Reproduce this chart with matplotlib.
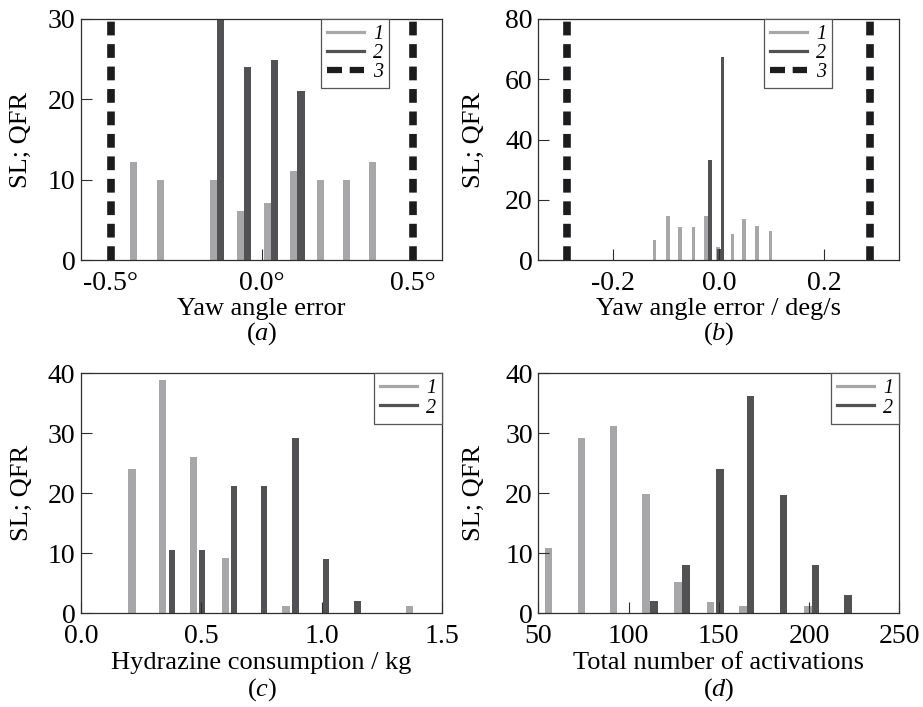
import matplotlib
matplotlib.use('Agg')
import matplotlib.pyplot as plt
from matplotlib.lines import Line2D

plt.rcParams['font.family'] = ['Liberation Serif', 'DejaVu Serif']
plt.rcParams['axes.unicode_minus'] = False
plt.rcParams['mathtext.fontset'] = 'custom'
plt.rcParams['mathtext.it'] = 'Liberation Serif:italic'
plt.rcParams['mathtext.rm'] = 'Liberation Serif'

LIGHT = '#a7a7a9'
DARK = '#525254'
BLACK = '#1c1b1d'
SPINE = '#2e2e2e'

# ---------------- data ----------------
# (a) yaw angle error
a_x1 = [-0.424, -0.336, -0.160, -0.071, 0.019, 0.106, 0.194, 0.280, 0.368]
a_y1 = [12.2, 10.0, 10.0, 6.1, 7.1, 11.1, 10.0, 10.0, 12.2]
a_x2 = [-0.136, -0.047, 0.043, 0.130]
a_y2 = [31.0, 24.0, 24.9, 21.0]
a_limits = [-0.5, 0.5]
a_xticks = [-0.5, 0.0, 0.5]
a_xticklabels = ['-0.5°', '0.0°', '0.5°']
a_yticks = [0, 10, 20, 30]

# (b) yaw rate error
b_x1 = [-0.122, -0.097, -0.073, -0.048, -0.024, -0.001, 0.026, 0.048, 0.073, 0.098]
b_y1 = [6.6, 14.6, 11.1, 11.1, 14.6, 4.2, 8.5, 13.5, 11.2, 9.5]
b_x2 = [-0.017, 0.000, 0.007]
b_y2 = [33.3, 3.8, 67.5]
b_limits = [-0.287, 0.287]
b_xticks = [-0.2, 0.0, 0.2]
b_xticklabels = ['-0.2', '0.0', '0.2']
b_yticks = [0, 20, 40, 60, 80]

# (c) hydrazine consumption
c_x1 = [0.212, 0.338, 0.466, 0.599, 0.851, 1.364]
c_y1 = [24.0, 38.9, 26.1, 9.2, 1.3, 1.3]
c_x2 = [0.378, 0.502, 0.635, 0.760, 0.890, 1.017, 1.147]
c_y2 = [10.5, 10.5, 21.2, 21.2, 29.3, 9.1, 2.0]
c_xticks = [0.0, 0.5, 1.0, 1.5]
c_xticklabels = ['0.0', '0.5', '1.0', '1.5']
c_yticks = [0, 10, 20, 30, 40]

# (d) total number of activations
d_x1 = [55.5, 73.8, 91.6, 109.6, 127.4, 145.3, 163.4, 199.4]
d_y1 = [10.9, 29.2, 31.2, 19.9, 5.2, 1.9, 1.2, 1.2]
d_x2 = [114.1, 132.0, 150.8, 167.5, 185.9, 203.6, 221.4]
d_y2 = [2.0, 8.0, 24.1, 36.3, 19.8, 8.1, 3.0]
d_xticks = [50, 100, 150, 200, 250]
d_xticklabels = ['50', '100', '150', '200', '250']
d_yticks = [0, 10, 20, 30, 40]

xlabels = ['Yaw angle error', 'Yaw angle error / deg/s',
           'Hydrazine consumption / kg', 'Total number of activations']
captions = ['a', 'b', 'c', 'd']
ylabel = 'SL; QFR'
legend_labels = ['1', '2', '3']

# ---------------- figure ----------------
W, H = 923, 707
fig = plt.figure(figsize=(W / 100, H / 100), dpi=100)

def px_axes(l, r, t, b):
    return fig.add_axes([l / W, (H - b) / H, (r - l) / W, (b - t) / H])

axA = px_axes(81, 442, 19, 260)
axB = px_axes(538.3, 899.3, 19, 260)
axC = px_axes(81, 442.3, 373.3, 613.3)
axD = px_axes(538.3, 899.3, 373.3, 613.3)

TICK_FS = 20
LAB_FS = 19

def style(ax, xticks, xticklabels, yticks, xlim, ylim):
    ax.set_xlim(*xlim)
    ax.set_ylim(*ylim)
    ax.set_xticks(xticks)
    ax.set_xticklabels(xticklabels)
    ax.set_yticks(yticks)
    ax.tick_params(axis='both', direction='in', length=8, width=0.8,
                   color=SPINE, labelsize=TICK_FS, top=False, right=False)
    ax.tick_params(axis='x', pad=8)
    ax.tick_params(axis='y', pad=4)
    for s in ax.spines.values():
        s.set_linewidth(0.9)
        s.set_color(SPINE)

DASH_KW = dict(color=BLACK, lw=5.5, linestyle=(0, (1.8, 1.14)))

def legend(ax, n, anchor_x):
    h = [Line2D([], [], color=LIGHT, lw=2.3),
         Line2D([], [], color=DARK, lw=2.3),
         Line2D([], [], color=BLACK, lw=4.5, linestyle=(0, (2.4, 1.23)))][:n]
    leg = ax.legend(h, legend_labels[:n], loc='upper right',
                    bbox_to_anchor=(anchor_x, 1.0), borderaxespad=0,
                    fancybox=False, framealpha=1, edgecolor='#555555',
                    prop={'style': 'italic', 'size': 14.5}, handlelength=1.85,
                    handletextpad=0.45, labelspacing=0.0, borderpad=0.3)
    leg.get_frame().set_linewidth(0.9)

# (a)
axA.bar(a_x1, a_y1, width=0.024, color=LIGHT)
axA.bar(a_x2, a_y2, width=0.024, color=DARK)
for v in a_limits:
    axA.axvline(v, **DASH_KW)
style(axA, a_xticks, a_xticklabels, a_yticks, (-0.598, 0.597), (0, 30))
legend(axA, 3, 0.854)

# (b)
axB.bar(b_x1, b_y1, width=0.0072, color=LIGHT)
axB.bar(b_x2, b_y2, width=0.0065, color=DARK)
for v in b_limits:
    axB.axvline(v, **DASH_KW)
style(axB, b_xticks, b_xticklabels, b_yticks, (-0.342, 0.342), (0, 80))
legend(axB, 3, 0.814)

# (c)
axC.bar(c_x1, c_y1, width=0.030, color=LIGHT)
axC.bar(c_x2, c_y2, width=0.028, color=DARK)
style(axC, c_xticks, c_xticklabels, c_yticks, (0, 1.5), (0, 40))
legend(axC, 2, 1.0)

# (d)
axD.bar(d_x1, d_y1, width=4.1, color=LIGHT)
axD.bar(d_x2, d_y2, width=4.3, color=DARK)
style(axD, d_xticks, d_xticklabels, d_yticks, (50, 250), (0, 40))
legend(axD, 2, 1.0)

def put_texts(ax, xlabel, cap, ylab_px, xlab_px, cap_px, left_px, bottom_px, wpx, hpx):
    ax.text((ylab_px - left_px) / wpx, 0.5, ylabel, transform=ax.transAxes,
            ha='center', va='center', rotation=90, fontsize=LAB_FS)
    ax.text(0.5, (bottom_px - xlab_px) / hpx, xlabel, transform=ax.transAxes,
            ha='center', va='center', fontsize=LAB_FS)
    ax.text(0.5, (bottom_px - cap_px) / hpx, '(' + r'$\mathit{' + cap + '}$' + ')',
            transform=ax.transAxes, ha='center', va='center', fontsize=LAB_FS)

put_texts(axA, xlabels[0], captions[0], 21, 309, 334, 81, 260, 361, 241)
put_texts(axB, xlabels[1], captions[1], 474, 309, 334, 538.3, 260, 361, 241)
put_texts(axC, xlabels[2], captions[2], 22, 663, 690, 81, 613.3, 361.3, 240)
put_texts(axD, xlabels[3], captions[3], 474, 663, 690, 538.3, 613.3, 361, 240)

fig.savefig('out.png', dpi=100)
